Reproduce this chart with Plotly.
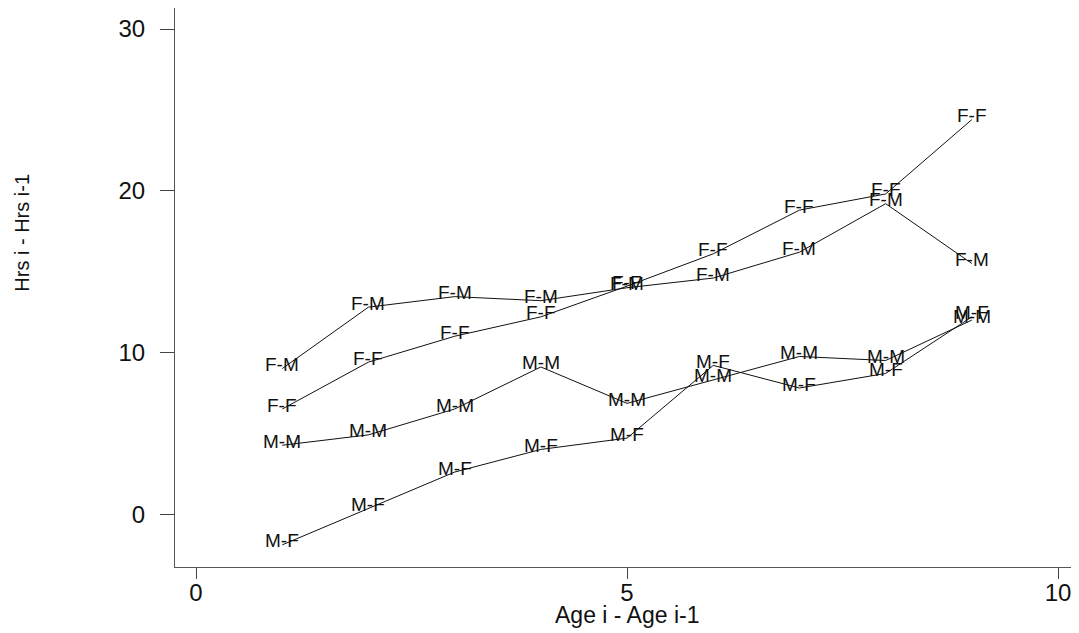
import plotly.graph_objects as go

x_vals = [1, 2, 3, 4, 5, 6, 7, 8, 9]
ff = [6.5, 9.4, 11.0, 12.2, 14.1, 16.1, 18.8, 19.8, 24.4]
fm = [9.0, 12.8, 13.45, 13.2, 14.0, 14.6, 16.2, 19.2, 15.5]
mm = [4.26, 4.9, 6.5, 9.1, 6.85, 8.3, 9.75, 9.5, 12.0]
mf = [-1.9, 0.37, 2.6, 4.0, 4.7, 9.2, 7.8, 8.7, 12.2]
series = [("F-F", ff), ("F-M", fm), ("M-M", mm), ("M-F", mf)]

x_ticks = [0, 5, 10]
y_ticks = [0, 10, 20, 30]

FONT = "Liberation Sans, Arial, sans-serif"

fig = go.Figure()
annotations = []
for name, vals in series:
    fig.add_trace(go.Scatter(
        x=x_vals, y=vals, mode="lines", name=name,
        line=dict(color="#111", width=1),
        showlegend=False, cliponaxis=False,
    ))
    for xv, yv in zip(x_vals, vals):
        annotations.append(dict(
            text=name, x=xv, y=yv, xref="x", yref="y",
            xanchor="center", yanchor="middle", yshift=4,
            showarrow=False,
            font=dict(family=FONT, size=19, color="#111"),
        ))

annotations += [
    dict(text="Age i - Age i-1", xref="x", x=5, yref="paper", y=0,
         yanchor="middle", yshift=-48, showarrow=False,
         font=dict(size=23, family=FONT, color="#111")),
    dict(text="Hrs i - Hrs i-1", xref="paper", x=0, xanchor="center",
         xshift=-153, yref="paper", y=0.598, yanchor="middle",
         textangle=-90, showarrow=False,
         font=dict(size=20, family=FONT, color="#111")),
]

# the page body adds an 8px margin; the figure is sized to fill the rest
fig.update_layout(
    width=1071, height=625,
    margin=dict(l=167, r=0, t=0, b=66, autoexpand=False),
    paper_bgcolor="white", plot_bgcolor="white",
    font=dict(family=FONT, color="#111"),
    xaxis=dict(range=[-0.244, 10.243], tickvals=x_ticks, ticks="outside",
               ticklen=11, tickcolor="#444", showline=True, linecolor="#555",
               linewidth=1, showgrid=False, zeroline=False, automargin=False,
               ticklabelstandoff=-7,
               tickfont=dict(size=24, family=FONT, color="#111")),
    yaxis=dict(range=[-3.27, 31.3], tickvals=y_ticks, ticks="outside",
               ticklen=14, tickcolor="#444", showline=True, linecolor="#555",
               linewidth=1, showgrid=False, zeroline=False, automargin=False,
               ticklabelstandoff=10,
               tickfont=dict(size=24, family=FONT, color="#111")),
    annotations=annotations,
)

fig.write_html("out.html")
